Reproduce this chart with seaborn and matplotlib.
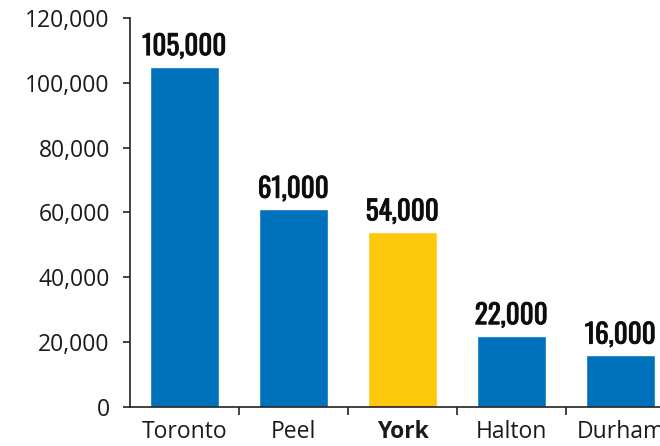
import matplotlib
matplotlib.use("Agg")
import matplotlib.pyplot as plt
import matplotlib.patheffects as pe
import seaborn as sns
import pandas as pd
from matplotlib.ticker import FuncFormatter, FixedLocator

regions = ["Toronto", "Peel", "York", "Halton", "Durham"]
values = [105000, 61000, 54000, 22000, 16000]
value_labels = ["105,000", "61,000", "54,000", "22,000", "16,000"]
colors = ["#0072BC", "#0072BC", "#FDC70C", "#0072BC", "#0072BC"]
y_ticks = [0, 20000, 40000, 60000, 80000, 100000, 120000]

sns.set_style("white")
plt.rcParams['font.family'] = ['Open Sans', 'DejaVu Sans']

df = pd.DataFrame({"region": regions, "value": values})

fig = plt.figure(figsize=(6.6, 4.46), dpi=100)
W, H = 660, 446
left_px, right_px, top_px, bottom_px = 130, 675, 18, 407
ax = fig.add_axes([left_px / W, (H - bottom_px) / H,
                   (right_px - left_px) / W, (bottom_px - top_px) / H])

sns.barplot(data=df, x="region", y="value", hue="region",
            palette=dict(zip(regions, colors)), legend=False,
            width=0.625, saturation=1, ax=ax)

ax.set_xlim(-0.5, len(regions) - 0.5)
ax.set_ylim(0, 120000)
ax.set_yticks(y_ticks)
ax.yaxis.set_major_formatter(FuncFormatter(lambda v, p: f"{int(v):,}"))
ax.set_xlabel("")
ax.set_ylabel("")

for s in ["top", "right"]:
    ax.spines[s].set_visible(False)
for s in ["left", "bottom"]:
    ax.spines[s].set_color("#222222")
    ax.spines[s].set_linewidth(1.2)

ax.tick_params(axis="y", which="major", direction="out", length=5, width=1.2,
               color="#222222", pad=9.5, labelsize=16.5, labelcolor="#1a1a1a", left=True)
ax.tick_params(axis="x", which="major", length=0, pad=9, labelsize=16.5,
               labelcolor="#1a1a1a")
ax.xaxis.set_minor_locator(FixedLocator([i + 0.5 for i in range(len(regions))]))
ax.tick_params(axis="x", which="minor", direction="out", length=6, width=1.2,
               color="#222222", bottom=True)

for lbl in ax.get_xticklabels():
    if lbl.get_text() == "York":
        lbl.set_fontweight("bold")

for i, (v, t) in enumerate(zip(values, value_labels)):
    ax.text(i, v + 2000, t, ha="center", va="bottom",
            fontfamily=["Oswald", "Barlow Condensed", "DejaVu Sans"],
            fontweight=900, fontsize=19.5, color="#0d0d0d",
            path_effects=[pe.withStroke(linewidth=0.6, foreground="#0d0d0d")])

fig.savefig("out.png", dpi=100)
